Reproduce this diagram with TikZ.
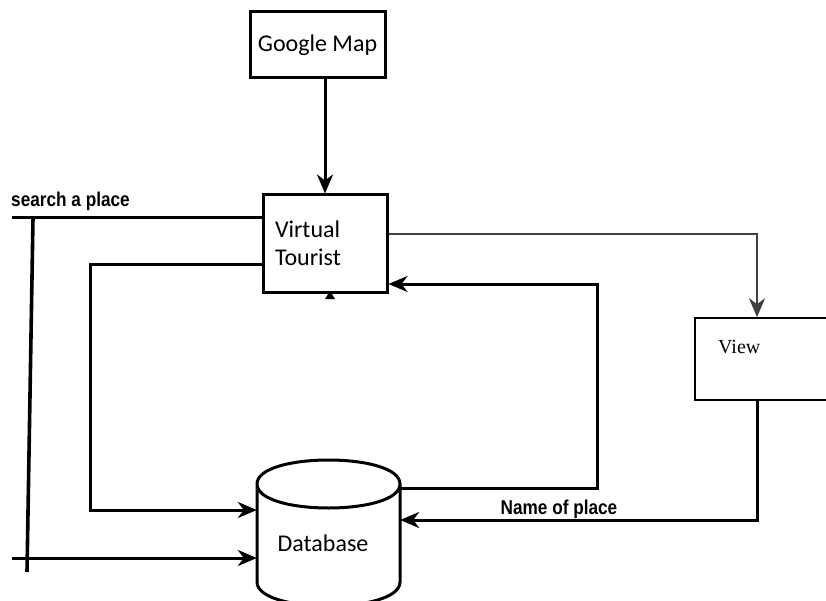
\documentclass[tikz,border=0pt]{standalone}
\usepackage{fontspec}
\setmainfont{Carlito}
\newfontfamily\arialf{Liberation Sans}
\newfontfamily\timesf{Liberation Serif}
\usetikzlibrary{arrows.meta}
\tikzset{
  box/.style={draw, line width=3pt, inner sep=0pt},
  thinbox/.style={draw, line width=1.6pt, inner sep=0pt},
  conn/.style={line width=3pt},
  arr/.style={conn, -{Stealth[length=19pt,width=16pt,inset=6pt]}},
  lbl/.style={font=\fontsize{24}{30}\selectfont, inner sep=0pt},
  small/.style={font=\arialf\bfseries\fontsize{20}{24}\selectfont, inner sep=0pt},
}
\begin{document}
\begin{tikzpicture}[x=1pt,y=-1pt]
\useasboundingbox (0,0) rectangle (826,601);
\clip (0,0) rectangle (826,601);
% nodes
\node[box, minimum width=135pt, minimum height=66pt, lbl] (gm) at (317.5,45) {Google Map};
\node[box, minimum width=124pt, minimum height=97pt, text width=100pt, align=left, lbl] (vt) at (325,243.5) {Virtual\\[-2pt]Tourist};
\node[thinbox, minimum width=140pt, minimum height=82pt] (view) at (765,359) {};
\node[font=\timesf\fontsize{20}{24}\selectfont, anchor=west, inner sep=0pt] (viewlbl) at (718,347) {View};
\node[minimum width=143pt, minimum height=150pt, inner sep=0pt] (db) at (328.5,535) {};
\node[lbl] (dblbl) at (323,543) {Database};
\node[small, anchor=south west] (search) at (11,211) {\scalebox{0.86}[1]{search a place}};
\node[small, anchor=south] (nameplace) at (559,519) {\scalebox{0.86}[1]{Name of place}};
% cylinder outline
\draw[line width=3pt] (257,484) .. controls (257,452) and (400,452) .. (400,484)
  .. controls (400,516) and (257,516) .. (257,484) -- (257,582)
  .. controls (257,614) and (400,614) .. (400,582) -- (400,484);
% coordinates
\coordinate (sL) at (12,218);
\coordinate (vtop) at (33,218);
\coordinate (vbot) at (27,572);
\coordinate (hL) at (12,558);
\coordinate (c2a) at (90,265);
\coordinate (c2b) at (90,510);
\coordinate (dbr) at (400,488);
\coordinate (c3a) at (597,488);
\coordinate (c3b) at (597,284);
\coordinate (c4a) at (757,234);
\coordinate (c5a) at (757,520);
% connectors
\draw[arr] (vt.north |- gm.south) -- (vt.north);
\draw[conn] (vt.west |- sL) -- (sL);
\draw[line width=3.6pt] (vtop) -- (vbot);
\draw[arr] (hL) -- (db.west |- hL);
\draw[arr] (vt.west |- c2a) -- (c2a) -- (c2b) -- (db.west |- c2b);
\draw[arr] (dbr) -- (c3a) -- (c3b) -- (vt.east |- c3b);
\draw[arr, draw=black!75, line width=2.4pt] (vt.east |- c4a) -- (c4a) -- (c4a |- view.north);
\draw[arr] (c4a |- view.south) -- (c5a) -- (db.east |- c5a);
% small stub arrowhead below Virtual Tourist
\fill (325,299) -- (335,299) -- (330,291) -- cycle;
\end{tikzpicture}
\end{document}
